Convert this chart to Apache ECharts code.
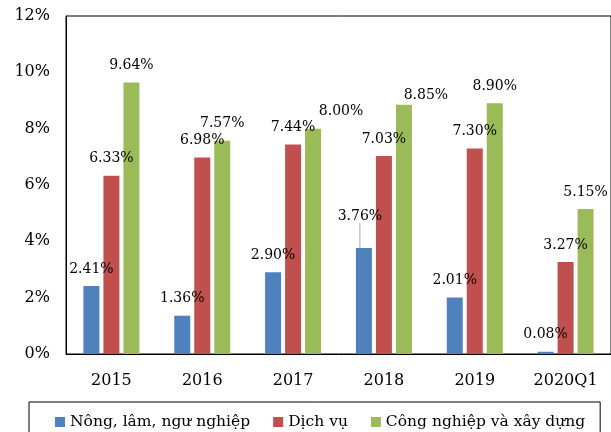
<!DOCTYPE html>
<html>
<head>
<meta charset="utf-8">
<script src="https://cdn.jsdelivr.net/npm/echarts@6/dist/echarts.min.js"></script>
<style>
  html, body { margin: 0; padding: 0; background: #fff; }
  #chart { width: 611px; height: 432px; }
</style>
</head>
<body>
<div id="chart"></div>
<script>
// dữ liệu
var years = ['2015', '2016', '2017', '2018', '2019', '2020Q1']
var seriesNames = ['Nông, lâm, ngư nghiệp', 'Dịch vụ', 'Công nghiệp và xây dựng']
var nongNghiep = [2.41, 1.36, 2.90, 3.76, 2.01, 0.08]
var dichVu = [6.33, 6.98, 7.44, 7.03, 7.30, 3.27]
var congNghiep = [9.64, 7.57, 8.00, 8.85, 8.90, 5.15]
var colors = ['#4F81BD', '#C0504D', '#9BBB59']

var font = 'DejaVu Serif'

function labelCfg () {
  return {
    show: true,
    position: 'top',
    distance: 10,
    color: '#000',
    fontFamily: font,
    fontSize: 14,
    formatter: function (p) { return p.value.toFixed(2) + '%' }
  }
}

// nhãn 2018 của nông nghiệp được kéo lên, có đường dẫn
var blueData = nongNghiep.map(function (v, i) {
  if (i === 3) {
    return { value: v, labelLine: { show: true, lineStyle: { color: '#A6A6A6', width: 1 } } }
  }
  return v
})

// một vài nhãn bị dịch sang bên như trong bản gốc
var greenData = congNghiep.map(function (v, i) {
  if (i === 2) return { value: v, label: { offset: [28, 0] } }
  if (i === 3) return { value: v, label: { offset: [22, 8] } }
  return v
})

var chart = echarts.init(document.getElementById('chart'))
chart.setOption({
  animation: false,
  color: colors,
  grid: {
    left: 66,
    right: -1,
    top: 16,
    bottom: 78,
    show: true,
    borderColor: '#000',
    borderWidth: 1
  },
  legend: {
    data: seriesNames,
    left: 29,
    top: 402,
    orient: 'horizontal',
    icon: 'rect',
    itemWidth: 10,
    itemHeight: 10,
    itemGap: 23,
    padding: [12, 15, 20, 26],
    borderColor: '#000',
    borderWidth: 1,
    textStyle: {
      color: '#000',
      fontFamily: font,
      fontSize: 15.5
    }
  },
  xAxis: {
    type: 'category',
    data: years,
    axisLine: { lineStyle: { color: '#000', width: 1 } },
    axisTick: { alignWithLabel: true, length: 5, lineStyle: { color: '#000' } },
    axisLabel: { color: '#000', fontFamily: font, fontSize: 16, margin: 19 }
  },
  yAxis: {
    type: 'value',
    min: 0,
    max: 12,
    interval: 2,
    splitLine: { show: false },
    axisTick: { show: false },
    axisLine: { show: true, lineStyle: { color: '#000', width: 1 } },
    axisLabel: {
      color: '#000',
      fontFamily: font,
      fontSize: 16,
      margin: 16,
      formatter: '{value}%'
    }
  },
  series: [
    {
      name: seriesNames[0],
      type: 'bar',
      barWidth: 16,
      barGap: '25%',
      data: blueData,
      label: labelCfg(),
      labelLine: { show: false },
      labelLayout: function (p) {
        if (p.dataIndex === 3) return { dx: -4, dy: -15 }
        return {}
      }
    },
    {
      name: seriesNames[1],
      type: 'bar',
      barWidth: 16,
      barGap: '25%',
      data: dichVu,
      label: labelCfg()
    },
    {
      name: seriesNames[2],
      type: 'bar',
      barWidth: 16,
      barGap: '25%',
      data: greenData,
      label: labelCfg()
    }
  ]
})
</script>
</body>
</html>
